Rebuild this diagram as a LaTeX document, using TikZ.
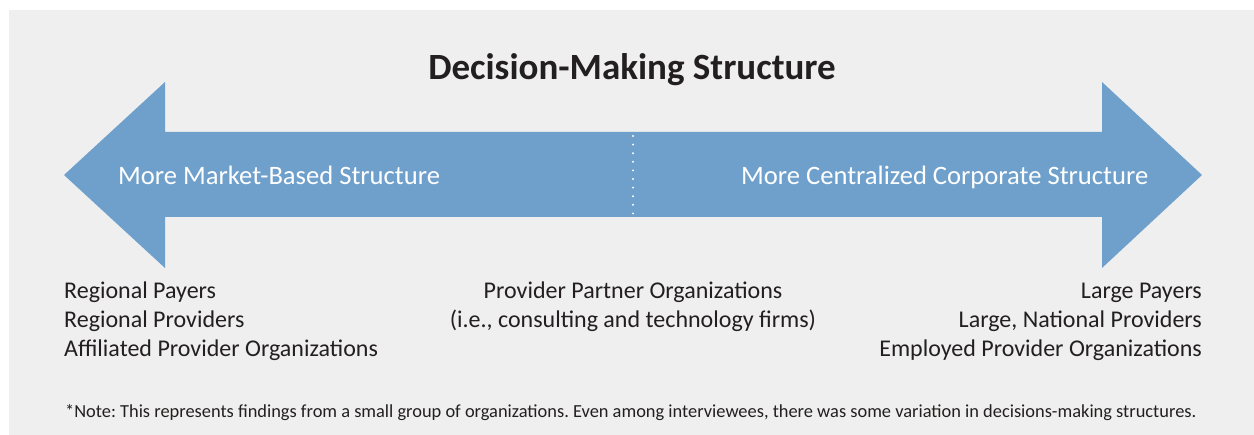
\documentclass[tikz,border=0pt]{standalone}
\usepackage{fontspec}
\setmainfont{Carlito}
\usepackage{xcolor}
\usepackage{tikz}
\usetikzlibrary{calc}

\definecolor{panelgray}{HTML}{EEEFEE}
\definecolor{arrowblue}{HTML}{6FA0CB}
\definecolor{textdark}{HTML}{231F20}

\begin{document}
\frenchspacing
\begin{tikzpicture}[x=1pt, y=-1pt]
                \tikzstyle{label}   = [inner sep=0pt, text=textdark, font=\fontsize{24}{29}\selectfont]
                \tikzstyle{inarrow} = [inner sep=0pt, text=white, font=\fontsize{26.6}{30}\selectfont, anchor=base west]
                \useasboundingbox (0, 0) rectangle (1254, 435);
                \fill [white] (0, 0) rectangle (1254, 435);
                \fill [panelgray] (9, 10) rectangle (1254, 435);
                %%Double arrow
                \coordinate (tl) at (64, 175);
                \coordinate (tr) at (1202, 175);
                \fill [arrowblue] (tl) -- (165, 82) -- (165, 132) -- (1102, 132) -- (1102, 82)
                        -- (tr) -- (1102, 268) -- (1102, 217) -- (165, 217) -- (165, 268) -- cycle;
                \coordinate (d1) at (633, 136);
                \coordinate (d2) at (633, 214);
                \draw [white, line width=2.2pt, line cap=round, dash pattern=on 0pt off 8.6pt] (d1) -- (d2);
                %%Texts
                \node [inner sep=0pt, text=textdark, font=\fontsize{37}{40}\selectfont\bfseries, anchor=base](title) at (632, 80) {Decision-Making Structure};
                \node [inarrow](market) at (118, 185) {More Market-Based Structure};
                \node [inarrow](central) at (741, 185) {More Centralized Corporate Structure};
                \node [label, anchor=base west, align=left](leftside) at (64, 357) {Regional Payers\\Regional Providers\\Affiliated Provider Organizations};
                \node [label, anchor=base, align=center](middle) at (633, 328) {Provider Partner Organizations\\(i.e., consulting and technology firms)};
                \node [label, anchor=base east, align=right](rightside) at (1202, 357) {Large Payers\\Large, National Providers\\Employed Provider Organizations};
                \node [inner sep=0pt, text=textdark, font=\fontsize{18.4}{21}\selectfont, anchor=base west](note) at (65, 418) {*Note: This represents findings from a small group of organizations. Even among interviewees, there was some variation in decisions-making structures.};
 \end{tikzpicture}
\end{document}
